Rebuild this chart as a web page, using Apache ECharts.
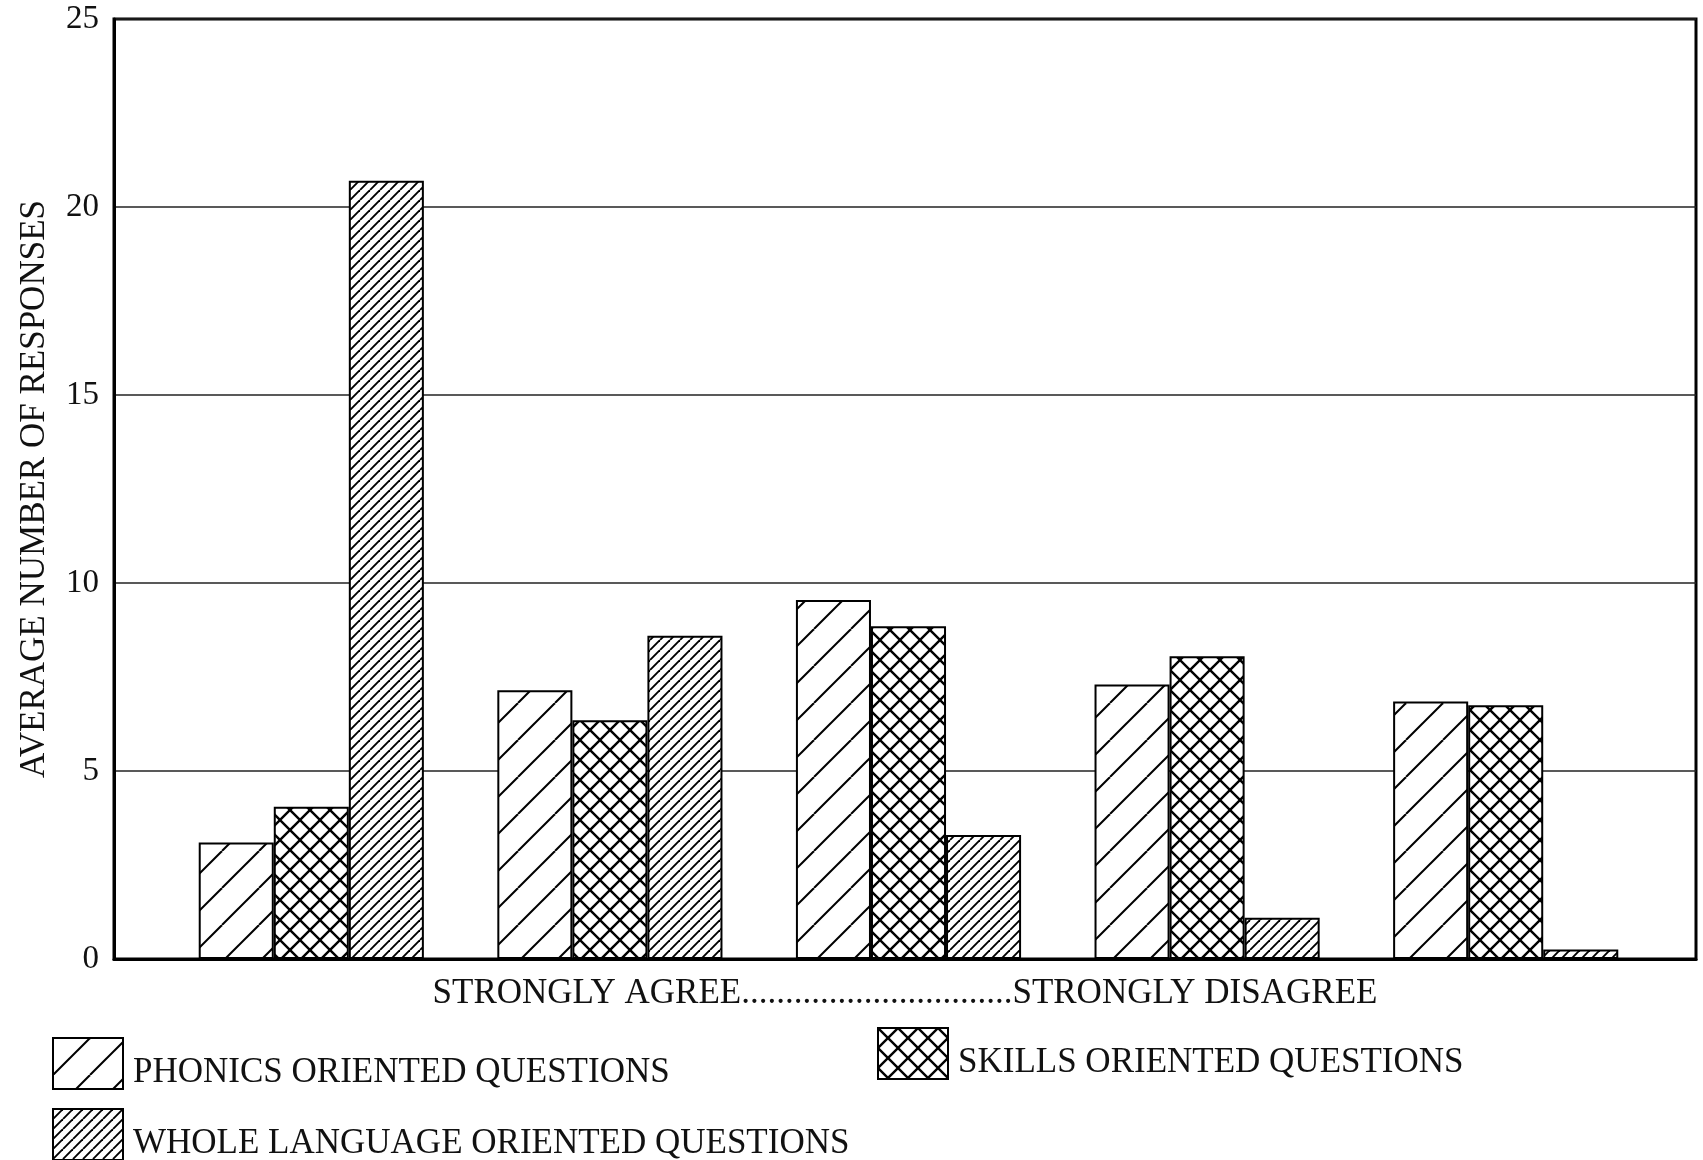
<!DOCTYPE html>
<html>
<head>
<meta charset="utf-8">
<script src="https://cdn.jsdelivr.net/npm/echarts@6/dist/echarts.min.js"></script>
<style>
html,body{margin:0;padding:0;background:#fff;}
#chart{width:1703px;height:1160px;}
</style>
</head>
<body>
<div id="chart"></div>
<script>
// ---- data ----
const categories = ['Strongly agree', 'Agree', 'Neutral', 'Disagree', 'Strongly disagree'];
const phonics = [3.1, 7.15, 9.55, 7.3, 6.85];
const skills = [4.05, 6.35, 8.85, 8.05, 6.75];
const wholeLanguage = [20.7, 8.6, 3.3, 1.1, 0.25];
const seriesNames = ['PHONICS ORIENTED QUESTIONS', 'SKILLS ORIENTED QUESTIONS', 'WHOLE LANGUAGE ORIENTED QUESTIONS'];
const yTicks = [0, 5, 10, 15, 20, 25];
const yTitle = 'AVERAGE NUMBER OF RESPONSES';
const xTitle = 'STRONGLY AGREE...............................STRONGLY DISAGREE';

// ---- hatch patterns ----
function makeHatch(size, lw, fwd, back) {
  const c = document.createElement('canvas');
  c.width = size; c.height = size;
  const ctx = c.getContext('2d');
  ctx.fillStyle = '#fff';
  ctx.fillRect(0, 0, size, size);
  ctx.strokeStyle = '#000';
  ctx.lineWidth = lw;
  for (const k of [-size, 0, size]) {
    if (fwd) { ctx.beginPath(); ctx.moveTo(k, size); ctx.lineTo(k + size, 0); ctx.stroke(); }
    if (back) { ctx.beginPath(); ctx.moveTo(k, 0); ctx.lineTo(k + size, size); ctx.stroke(); }
  }
  return { image: c, repeat: 'repeat' };
}
const fills = [makeHatch(37, 2, true, false), makeHatch(20, 2.4, true, true), makeHatch(10, 1.9, true, false)];
const values = [phonics, skills, wholeLanguage];

const font = '"Liberation Serif", "Times New Roman", serif';
const chart = echarts.init(document.getElementById('chart'), null, { renderer: 'canvas' });

const gridTop = 19, gridBottom = 201;

const option = {
  backgroundColor: '#fff',
  animation: false,
  textStyle: { fontFamily: font, color: '#111' },
  grid: [
    { left: 114, right: 7, top: gridTop, bottom: gridBottom, show: true, borderColor: '#000', borderWidth: 3, backgroundColor: 'transparent' },
    { left: 162, right: 48, top: gridTop, bottom: gridBottom }
  ],
  xAxis: [
    { gridIndex: 0, type: 'value', min: 0, max: 1, axisLine: { show: true, lineStyle: { color: '#000', width: 3 } }, axisTick: { show: false }, axisLabel: { show: false }, splitLine: { show: false },
      name: xTitle, nameLocation: 'middle', nameGap: 17, nameTextStyle: { fontFamily: font, fontSize: 35, color: '#111' } },
    { gridIndex: 1, type: 'category', data: categories, axisLine: { show: false }, axisTick: { show: false }, axisLabel: { show: false }, splitLine: { show: false } }
  ],
  yAxis: [
    { gridIndex: 0, type: 'value', min: yTicks[0], max: yTicks[yTicks.length - 1], interval: 5,
      axisLine: { show: true, lineStyle: { color: '#000', width: 3 } }, axisTick: { show: false },
      axisLabel: { margin: 15, fontSize: 33, fontFamily: font, color: '#111' },
      splitLine: { show: true, lineStyle: { color: '#222', width: 1.5 } },
      name: yTitle, nameLocation: 'middle', nameGap: 62, nameRotate: 90,
      nameTextStyle: { fontFamily: font, fontSize: 35, color: '#111' } },
    { gridIndex: 1, type: 'value', min: yTicks[0], max: yTicks[yTicks.length - 1], interval: 5, show: false }
  ],
  legend: [
    { data: [seriesNames[0]], left: 52, top: 1037 },
    { data: [seriesNames[1]], left: 877, top: 1027 },
    { data: [seriesNames[2]], left: 52, top: 1108 }
  ].map(l => Object.assign(l, {
    orient: 'horizontal', padding: 0, itemWidth: 70, itemHeight: 51, icon: 'rect',
    itemStyle: { borderColor: '#000', borderWidth: 2 },
    formatter: '{t|{name}}',
    textStyle: { fontFamily: font, fontSize: 35, color: '#111',
      rich: { t: { fontFamily: font, fontSize: 35, color: '#111', padding: [19, 0, 0, 5] } } }
  })),
  series: seriesNames.map((n, i) => ({
    name: n, type: 'bar', xAxisIndex: 1, yAxisIndex: 1,
    data: values[i],
    barGap: '0%', barCategoryGap: '24.6%',
    itemStyle: { color: fills[i], borderColor: '#000', borderWidth: 2 },
    emphasis: { disabled: true }
  }))
};
chart.setOption(option);
</script>
</body>
</html>
